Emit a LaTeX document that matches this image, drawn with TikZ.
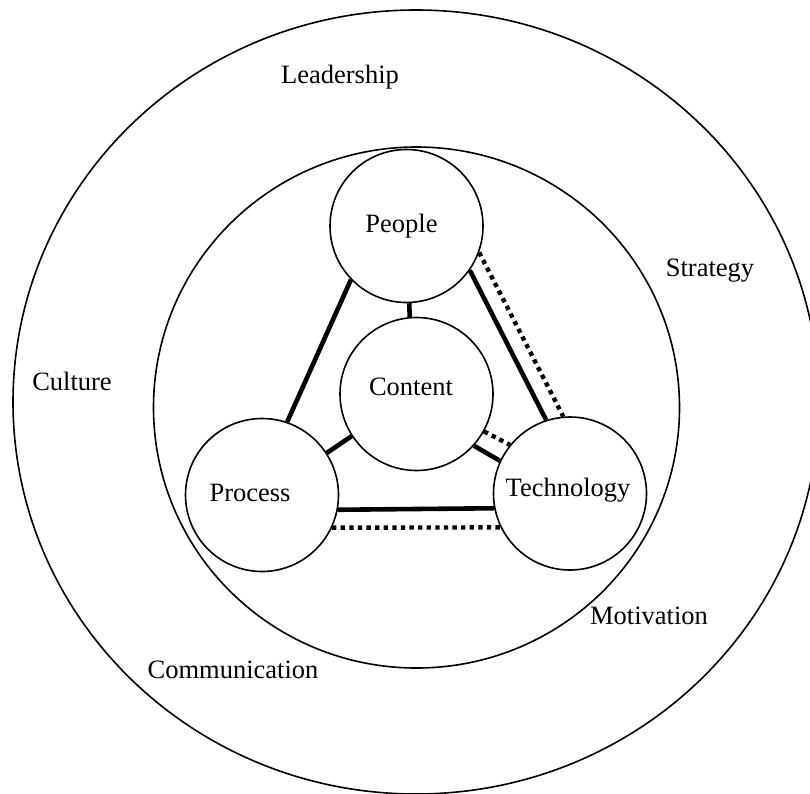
\documentclass[tikz,border=0pt]{standalone}
\usepackage{fontspec}
\setmainfont{Liberation Serif}
\begin{document}
\begin{tikzpicture}[x=1pt,y=-1pt,
  every node/.style={font=\fontsize{26.5}{30}\selectfont},
  ring/.style={draw, line width=1.6pt},
  hub/.style={circle, draw, line width=1.6pt, minimum size=153pt, inner sep=0pt},
  link/.style={line width=4.6pt},
  dotlink/.style={line width=4.4pt, dash pattern=on 4.3pt off 4.3pt},
  word/.style={anchor=base, inner sep=0pt}]
\useasboundingbox (0,0) rectangle (810,793);
\clip (0,0) rectangle (810,793);

% outer and inner rings
\draw[ring] (416,402) ellipse [x radius=403, y radius=392];
\draw[ring] (416.5,407.5) ellipse [x radius=263, y radius=260.5];

% the four hubs
\node[hub, label={[xshift=-5pt]center:People}]            (people)     at (406.5,226) {};
\node[hub, label={[xshift=-5.5pt,yshift=7pt]center:Content}] (content)  at (416.5,394) {};
\node[hub, label={[xshift=-12pt,yshift=2pt]center:Process}]  (process)  at (262,495)   {};
\node[hub, label={[xshift=-2pt,yshift=3pt]center:Technology}] (technology) at (570,493.5) {};

% links between hubs
\draw[link]    (people.272)     -- (content.95.5);
\draw[link]    (people.224)     -- (process.71);
\draw[link]    (people.325)     -- (technology.108);
\draw[dotlink] (people.340.5)   -- (technology.95);
\draw[link]    (content.213.7)  -- (process.33.5);
\draw[link]    (content.318.4)  -- (technology.155.7);
\draw[dotlink] (content.331.5)  -- (technology.141);
\draw[link]    (process.349.5)  -- (technology.191.6);
\draw[dotlink] (process.335)    -- (technology.206);

% words around the rings
\node[word] (leadership)    at (340,83)    {Leadership};
\node[word] (culture)       at (72,390)    {Culture};
\node[word] (strategy)      at (710,276)   {Strategy};
\node[word] (motivation)    at (649,624.7) {Motivation};
\node[word] (communication) at (233,678)   {Communication};
\end{tikzpicture}
\end{document}
